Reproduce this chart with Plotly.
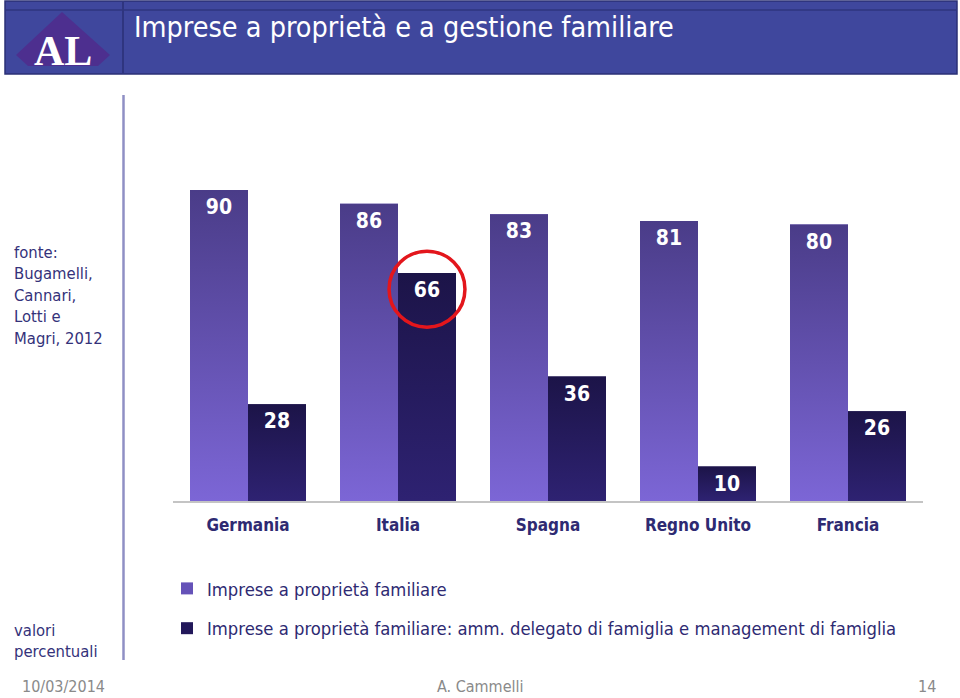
import plotly.graph_objects as go

# ---- data ----
countries = ["Germania", "Italia", "Spagna", "Regno Unito", "Francia"]
fam_owned = [90, 86, 83, 81, 80]
fam_managed = [28, 66, 36, 10, 26]
series_names = [
    "Imprese a proprietà familiare",
    "Imprese a proprietà familiare: amm. delegato di famiglia e management di famiglia",
]
title_text = "Imprese a proprietà e a gestione familiare"
source_text = "fonte:<br>Bugamelli,<br>Cannari,<br>Lotti e<br>Magri, 2012"
units_text = "valori<br>percentuali"
footer_left, footer_mid, footer_right = "10/03/2014", "A. Cammelli", "14"

W, H = 960, 698
FONT = "DejaVu Sans Condensed, Open Sans, sans-serif"
TXT = "#2e2a72"
idx = list(range(len(countries)))
bw = 58 / 150  # bar width in category units
unit_px = 311 / 90  # pixels per percentage point
label_drop = 19 / unit_px  # value labels sit just inside the top of each bar


def px(x):
    return x / W


def py(y):
    return 1 - y / H


fig = go.Figure()

# base bars (legend + structure)
fig.add_trace(go.Bar(x=idx, y=fam_owned, width=bw, offset=-bw, name=series_names[0],
                     marker=dict(color="#6552b8", line=dict(width=0)), legendgroup="a"))
fig.add_trace(go.Bar(x=idx, y=fam_managed, width=bw, offset=0, name=series_names[1],
                     marker=dict(color="#22185a", line=dict(width=0)), legendgroup="b"))

# gradient overlays computed from the same data
for series, off, cs in [
    (fam_owned, -bw, [[0, "#7c66d6"], [1, "#4a3c88"]]),
    (fam_managed, 0, [[0, "#2e2272"], [1, "#1c1448"]]),
]:
    for i, v in zip(idx, series):
        x0, x1 = i + off, i + off + bw
        fig.add_trace(go.Scatter(
            x=[x0, x0, x1, x1, x0], y=[0, v, v, 0, 0], mode="lines",
            fill="toself", line=dict(width=0),
            fillgradient=dict(type="vertical", colorscale=cs),
            showlegend=False, hoverinfo="skip"))

# value labels
for series, off in [(fam_owned, -bw / 2), (fam_managed, bw / 2)]:
    fig.add_trace(go.Scatter(
        x=[i + off for i in idx], y=[v - label_drop for v in series], mode="text",
        text=[str(v) for v in series], textposition="middle center",
        textfont=dict(family=FONT, size=21, color="white", weight="bold"),
        showlegend=False, hoverinfo="skip", cliponaxis=False))

shapes = []
# header
shapes.append(dict(type="rect", xref="paper", yref="paper", x0=px(5), x1=px(957), y0=py(74), y1=py(1),
                   fillcolor="#3f479d", line=dict(color="#2b3075", width=1.5), layer="below"))
shapes.append(dict(type="line", xref="paper", yref="paper", x0=px(5), x1=px(957), y0=py(10), y1=py(10),
                   line=dict(color="#2f357f", width=1.5)))
shapes.append(dict(type="line", xref="paper", yref="paper", x0=px(123), x1=px(123), y0=py(74), y1=py(1),
                   line=dict(color="#2f357f", width=2)))


def pth(pts):
    return "M " + " L ".join(f"{px(a)},{py(b)}" for a, b in pts) + " Z"


# logo
shapes.append(dict(type="path", xref="paper", yref="paper",
                   path=pth([(62, 12), (16, 55), (28, 66), (98, 66), (110, 55)]),
                   fillcolor="#4d2f8f", line=dict(width=0)))
# left separator
shapes.append(dict(type="line", xref="paper", yref="paper", x0=px(123.5), x1=px(123.5), y0=py(660), y1=py(95),
                   line=dict(color="#8f8fc4", width=2.5)))
# red circle around Italia's 66
cx = 1 + bw / 2
cy = fam_managed[1] - 4.7
shapes.append(dict(type="circle", xref="x", yref="y", x0=cx - 0.253, x1=cx + 0.253,
                   y0=cy - 11, y1=cy + 11, line=dict(color="#e3161c", width=3.5)))


def ann(text, x, y, size, color, xanchor="left", yanchor="middle", family=FONT, weight="normal", align="left"):
    return dict(text=text, x=px(x), y=py(y), xref="paper", yref="paper", xanchor=xanchor, yanchor=yanchor,
                align=align, showarrow=False, borderpad=0,
                font=dict(family=family, size=size, color=color, weight=weight))


annotations = [
    ann("AL", 63, 51, 42, "white", xanchor="center", family="Liberation Serif", weight="bold"),
    ann(title_text, 133, 27, 28.5, "white"),
    ann(source_text, 13, 242, 16.5, "#34327a", yanchor="top"),
    ann(units_text, 13, 620, 16.5, "#34327a", yanchor="top"),
    ann(footer_left, 21, 697, 16, "#8a8a8a", yanchor="bottom"),
    ann(footer_mid, 480, 697, 16, "#8a8a8a", xanchor="center", yanchor="bottom"),
    ann(footer_right, 937, 697, 16, "#8a8a8a", xanchor="right", yanchor="bottom"),
]

ymax = 100
y_bottom_px, y_top_px = 501, 501 - ymax * unit_px

fig.update_layout(
    width=W, height=H, margin=dict(l=0, r=0, t=0, b=0),
    paper_bgcolor="white", plot_bgcolor="white",
    barmode="overlay", showlegend=True,
    shapes=shapes, annotations=annotations,
    xaxis=dict(domain=[px(173), px(923)], range=[-0.5, 4.5], tickmode="array", tickvals=idx,
               ticktext=countries, showgrid=False, zeroline=False, showline=True,
               linecolor="#c4c4c4", linewidth=2, ticks="", ticklabelstandoff=8,
               tickfont=dict(family=FONT, size=17, color=TXT, weight="bold"), fixedrange=True),
    yaxis=dict(domain=[py(y_bottom_px), py(y_top_px)], range=[0, ymax], visible=False, fixedrange=True),
    legend=dict(x=px(167), y=py(570), xanchor="left", yanchor="top", orientation="v",
                font=dict(family=FONT, size=18.3, color=TXT), tracegroupgap=13,
                bgcolor="rgba(0,0,0,0)"),
)

fig.write_html("out.html")
